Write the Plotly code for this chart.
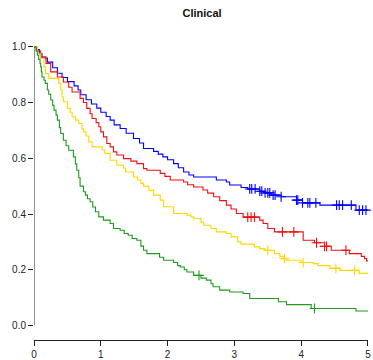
import numpy as np
import plotly.graph_objects as go

# ---- data ----
blue_t = [0, 0.04, 0.08, 0.12, 0.2, 0.28, 0.35, 0.42, 0.5, 0.6, 0.66, 0.7, 0.78, 0.86, 0.94, 1.0, 1.08, 1.14, 1.2,
          1.29, 1.38, 1.49, 1.58, 1.64, 1.79, 1.86, 1.93, 2.0, 2.09, 2.16, 2.24, 2.32, 2.39, 2.73, 2.88, 2.93, 3.1,
          3.2, 3.38, 3.46, 3.55, 3.7, 3.93, 4.02, 4.28, 4.82, 5.0]
blue_s = [1.0, 0.99, 0.975, 0.96, 0.945, 0.925, 0.905, 0.89, 0.875, 0.86, 0.845, 0.828, 0.81, 0.795, 0.78, 0.765,
          0.75, 0.737, 0.72, 0.707, 0.69, 0.671, 0.655, 0.635, 0.625, 0.615, 0.605, 0.595, 0.581, 0.566, 0.551, 0.54,
          0.533, 0.522, 0.515, 0.504, 0.495, 0.49, 0.482, 0.476, 0.468, 0.462, 0.45, 0.44, 0.432, 0.414, 0.414]
blue_cens = [3.23, 3.26, 3.31, 3.38, 3.41, 3.46, 3.50, 3.53, 3.58, 3.61, 3.70, 3.93, 3.95, 4.02, 4.10, 4.13, 4.22,
             4.53, 4.57, 4.62, 4.75, 4.87, 4.92, 4.97]

red_t = [0, 0.04, 0.1, 0.18, 0.25, 0.35, 0.44, 0.52, 0.57, 0.69, 0.74, 0.79, 0.84, 0.87, 0.93, 0.97, 1.0, 1.04,
         1.09, 1.14, 1.19, 1.24, 1.34, 1.45, 1.54, 1.64, 1.69, 1.89, 1.96, 2.04, 2.24, 2.3, 2.39, 2.53, 2.6, 2.69,
         2.78, 2.88, 2.95, 3.03, 3.13, 3.38, 3.43, 3.5, 3.6, 4.03, 4.2, 4.35, 4.45, 4.72, 4.9, 4.95, 4.98, 5.0]
red_s = [1.0, 0.985, 0.964, 0.94, 0.91, 0.892, 0.874, 0.855, 0.838, 0.815, 0.8, 0.779, 0.76, 0.743, 0.728, 0.713,
         0.695, 0.677, 0.653, 0.641, 0.623, 0.612, 0.599, 0.59, 0.581, 0.563, 0.557, 0.546, 0.535, 0.522, 0.515,
         0.505, 0.497, 0.486, 0.475, 0.462, 0.448, 0.432, 0.418, 0.402, 0.389, 0.378, 0.366, 0.348, 0.336, 0.306,
         0.297, 0.284, 0.27, 0.258, 0.248, 0.24, 0.232, 0.232]
red_cens = [3.2, 3.25, 3.3, 3.72, 3.89, 4.23, 4.35, 4.38, 4.67]

yellow_t = [0, 0.05, 0.1, 0.15, 0.17, 0.22, 0.37, 0.4, 0.42, 0.44, 0.5, 0.54, 0.57, 0.62, 0.67, 0.72, 0.74, 0.78,
            0.82, 0.87, 1.02, 1.06, 1.14, 1.24, 1.34, 1.37, 1.49, 1.55, 1.6, 1.64, 1.72, 1.79, 1.89, 1.94, 2.09,
            2.29, 2.35, 2.39, 2.5, 2.54, 2.65, 2.73, 2.88, 2.95, 3.05, 3.1, 3.3, 3.38, 3.45, 3.6, 3.68, 3.73, 3.78,
            4.0, 4.18, 4.25, 4.43, 4.58, 4.87, 5.0]
yellow_s = [1.0, 0.975, 0.958, 0.928, 0.904, 0.887, 0.869, 0.845, 0.82, 0.803, 0.779, 0.765, 0.749, 0.737, 0.725,
            0.705, 0.695, 0.68, 0.659, 0.641, 0.63, 0.617, 0.593, 0.575, 0.565, 0.551, 0.533, 0.522, 0.51, 0.5,
            0.485, 0.468, 0.45, 0.426, 0.402, 0.396, 0.39, 0.384, 0.37, 0.36, 0.348, 0.336, 0.33, 0.318, 0.3,
            0.292, 0.282, 0.276, 0.27, 0.258, 0.248, 0.24, 0.234, 0.226, 0.222, 0.215, 0.205, 0.198, 0.187, 0.187]
yellow_cens = [3.5, 3.75, 4.03, 4.52, 4.8]

green_t = [0, 0.03, 0.05, 0.07, 0.09, 0.1, 0.11, 0.12, 0.15, 0.17, 0.2, 0.22, 0.25, 0.28, 0.3, 0.33, 0.35, 0.38,
           0.4, 0.44, 0.48, 0.52, 0.59, 0.62, 0.64, 0.67, 0.69, 0.74, 0.77, 0.8, 0.84, 0.88, 0.92, 0.97, 1.04,
           1.14, 1.19, 1.29, 1.35, 1.41, 1.47, 1.54, 1.6, 1.64, 1.69, 1.88, 1.94, 2.09, 2.15, 2.19, 2.25, 2.29,
           2.39, 2.5, 2.58, 2.65, 2.68, 2.78, 2.93, 3.13, 3.23, 3.66, 3.78, 4.15, 4.82, 5.0]
green_s = [1.0, 0.985, 0.97, 0.955, 0.94, 0.928, 0.91, 0.892, 0.88, 0.869, 0.845, 0.83, 0.809, 0.79, 0.773, 0.755,
           0.737, 0.71, 0.689, 0.665, 0.645, 0.629, 0.605, 0.58, 0.557, 0.53, 0.5, 0.48, 0.468, 0.455, 0.444,
           0.425, 0.408, 0.39, 0.378, 0.366, 0.348, 0.342, 0.33, 0.324, 0.312, 0.306, 0.285, 0.27, 0.258, 0.245,
           0.234, 0.226, 0.215, 0.21, 0.2, 0.192, 0.18, 0.17, 0.163, 0.15, 0.139, 0.127, 0.12, 0.115, 0.097,
           0.085, 0.075, 0.061, 0.052, 0.052]
green_cens = [2.47, 4.2]

x_ticks = [0, 1, 2, 3, 4, 5]
y_ticks = [0.0, 0.2, 0.4, 0.6, 0.8, 1.0]
y_tick_labels = ["0.0", "0.2", "0.4", "0.6", "0.8", "1.0"]

series = [
    ("blue", blue_t, blue_s, blue_cens, "#0000FF"),
    ("red", red_t, red_s, red_cens, "#EE1111"),
    ("yellow", yellow_t, yellow_s, yellow_cens, "#FFD700"),
    ("green", green_t, green_s, green_cens, "#1E9A1E"),
]


def step_value(ts, ss, t):
    idx = np.searchsorted(np.asarray(ts), t, side="right") - 1
    return float(np.asarray(ss)[idx])


fig = go.Figure()
for name, ts, ss, cens, col in series:
    fig.add_trace(go.Scatter(x=ts, y=ss, mode="lines", line=dict(color=col, width=1.1, shape="hv"),
                             name=name, hoverinfo="skip", cliponaxis=False))
    fig.add_trace(go.Scatter(x=cens, y=[step_value(ts, ss, c) for c in cens], mode="markers",
                             marker=dict(symbol="cross-thin", size=7, line=dict(color=col, width=1.1)),
                             name=name + " censored", hoverinfo="skip", cliponaxis=False))

# R-style y-axis line spanning 0..1
fig.add_shape(type="line", xref="x", yref="y", x0=0, x1=0, y0=0, y1=1,
              line=dict(color="#222222", width=1))

FIG_W, FIG_H = 373, 360
fig.update_layout(
    width=FIG_W, height=FIG_H,
    margin=dict(l=33.5, r=4.5, t=45.6, b=20.2),
    paper_bgcolor="white", plot_bgcolor="white",
    showlegend=False,
    font=dict(family="Liberation Sans, Arial, sans-serif", size=10, color="#222222"),
    title=dict(text="<b>Clinical</b>", xref="container", x=202 / FIG_W, xanchor="center",
               yref="container", y=1 - 13.0 / FIG_H, yanchor="middle",
               font=dict(size=11, color="#111111"), automargin=False),
)
fig.update_xaxes(range=[0, 5.0005], tickvals=x_ticks, ticktext=[str(v) for v in x_ticks], automargin=False,
                 ticklabeloverflow="allow",
                 showgrid=False, zeroline=False, showline=True, linecolor="#222222", linewidth=1,
                 ticks="outside", ticklen=5, tickcolor="#222222", tickwidth=1, tickfont=dict(size=10))
fig.update_yaxes(range=[-0.052, 1.003], tickvals=y_ticks, ticktext=y_tick_labels, automargin=False,
                 ticklabeloverflow="allow",
                 showgrid=False, zeroline=False, showline=False,
                 ticks="outside", ticklen=5, tickcolor="#222222", tickwidth=1, tickfont=dict(size=10))

# remove the browser's default 8px body margin so the figure sits at the window's corner
fig.write_html("out.html", config={"displayModeBar": False},
               post_script="document.body.style.margin='0';document.body.style.overflow='hidden';")
